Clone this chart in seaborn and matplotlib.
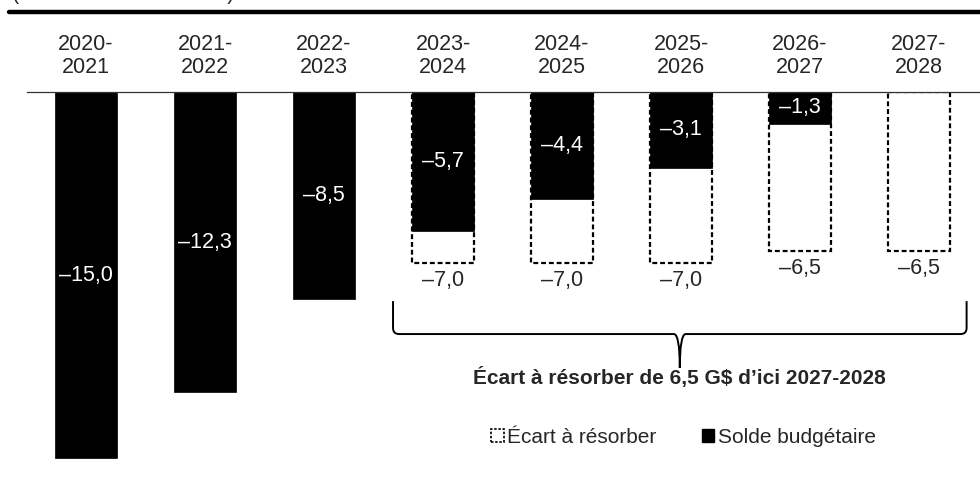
"""Solde budgétaire et écart à résorber, 2020-2021 à 2027-2028."""

import matplotlib

matplotlib.use("Agg")
import matplotlib.pyplot as plt
import numpy as np
import pandas as pd
import seaborn as sns
from matplotlib.patches import Patch, PathPatch
from matplotlib.path import Path

periods = ["2020-2021", "2021-2022", "2022-2023", "2023-2024",
           "2024-2025", "2025-2026", "2026-2027", "2027-2028"]
solde = [-15.0, -12.3, -8.5, -5.7, -4.4, -3.1, -1.3, np.nan]
ecart = [np.nan, np.nan, np.nan, -7.0, -7.0, -7.0, -6.5, -6.5]
ecart_note = "Écart à résorber de 6,5 G$ d’ici 2027-2028"
unit_note = "(en milliards de dollars)"

FONT = ["Liberation Sans", "DejaVu Sans"]
FS = 15.5


def fmt(v):
    return f"{v:.1f}".replace(".", ",").replace("-", "\u2013")


sns.set_theme(style="white")
plt.rcParams["font.family"] = FONT

df = pd.DataFrame({"period": periods, "solde": solde, "ecart": ecart})

W, H = 980, 482
fig = plt.figure(figsize=(W / 100, H / 100), dpi=100)
# axes top is the zero line
ax = fig.add_axes([27 / W, 0, (W - 27) / W, (H - 92) / H])

bar_w = 0.52
sns.barplot(data=df, x="period", y="ecart", order=periods, ax=ax,
            color="white", edgecolor="black", linewidth=1.6,
            linestyle=(0, (2.2, 1.3)), width=bar_w, saturation=1)
sns.barplot(data=df, x="period", y="solde", order=periods, ax=ax,
            color="black", edgecolor="black", linewidth=0.5,
            width=bar_w, saturation=1)

px = 119.0
ax.set_xlim((27 - 86) / px, (W - 86) / px)
ax.set_ylim(-(H - 92) / 24.4, 0)

for s in ["left", "right", "bottom"]:
    ax.spines[s].set_visible(False)
ax.spines["top"].set_color("#333333")
ax.spines["top"].set_linewidth(0.9)
ax.set_xticks([])
ax.set_yticks([])
ax.set_xlabel("")
ax.set_ylabel("")

# category labels above the zero line
for i, p in enumerate(periods):
    a, b = p.split("-")
    ax.annotate(f"{a}-\n{b}", (i, 0), xytext=(0, 10), textcoords="offset points",
                ha="center", va="bottom", fontsize=FS, linespacing=1.12,
                annotation_clip=False)

# values
for i, (s, e) in enumerate(zip(solde, ecart)):
    if not np.isnan(s):
        ax.text(i, s / 2, fmt(s), ha="center", va="center",
                color="white", fontsize=FS)
    if not np.isnan(e):
        ax.annotate(fmt(e), (i, e), xytext=(0, -13), textcoords="offset points",
                    ha="center", va="center", fontsize=FS)

# brace under the forecast years
x0, x1 = 3 - 0.42, 7 + 0.40
xm = (x0 + x1) / 2
y_top, y_mid, y_tip = -8.57, -9.92, -11.31
r, ry = 0.05, 0.25
verts = [(x0, y_top), (x0, y_mid + ry), (x0, y_mid), (x0 + r, y_mid),
         (xm - r, y_mid), (xm, y_mid), (xm, y_tip),
         (xm, y_mid), (xm + r, y_mid),
         (x1 - r, y_mid), (x1, y_mid), (x1, y_mid + ry), (x1, y_top)]
codes = [Path.MOVETO, Path.LINETO, Path.CURVE3, Path.CURVE3,
         Path.LINETO, Path.CURVE3, Path.CURVE3,
         Path.CURVE3, Path.CURVE3,
         Path.LINETO, Path.CURVE3, Path.CURVE3, Path.LINETO]
ax.add_patch(PathPatch(Path(verts, codes), facecolor="none",
                       edgecolor="black", linewidth=1.4, clip_on=False))

ax.text(xm, -11.72, ecart_note, ha="center", va="center",
        fontsize=15, fontweight="bold")

handles = [
    Patch(facecolor="white", edgecolor="black", linestyle=(0, (1.5, 1)),
          linewidth=1.2, label="Écart à résorber"),
    Patch(facecolor="black", edgecolor="black", label="Solde budgétaire"),
]
ax.legend(handles=handles, loc="center", bbox_to_anchor=(xm + 0.03, -14.15),
          bbox_transform=ax.transData, ncol=2, frameon=False, fontsize=15,
          handlelength=0.6, handleheight=0.6, handletextpad=0.15,
          columnspacing=2.2)

# heavy rule and truncated unit note at the very top
fig.add_artist(plt.Line2D([9 / W, 1], [1 - 12 / H, 1 - 12 / H],
                          color="black", linewidth=3.2))
fig.text(12 / W, 1 + 0.5 / H, unit_note, ha="left", va="baseline", fontsize=FS)

fig.savefig("out.png", dpi=100)
plt.close(fig)
